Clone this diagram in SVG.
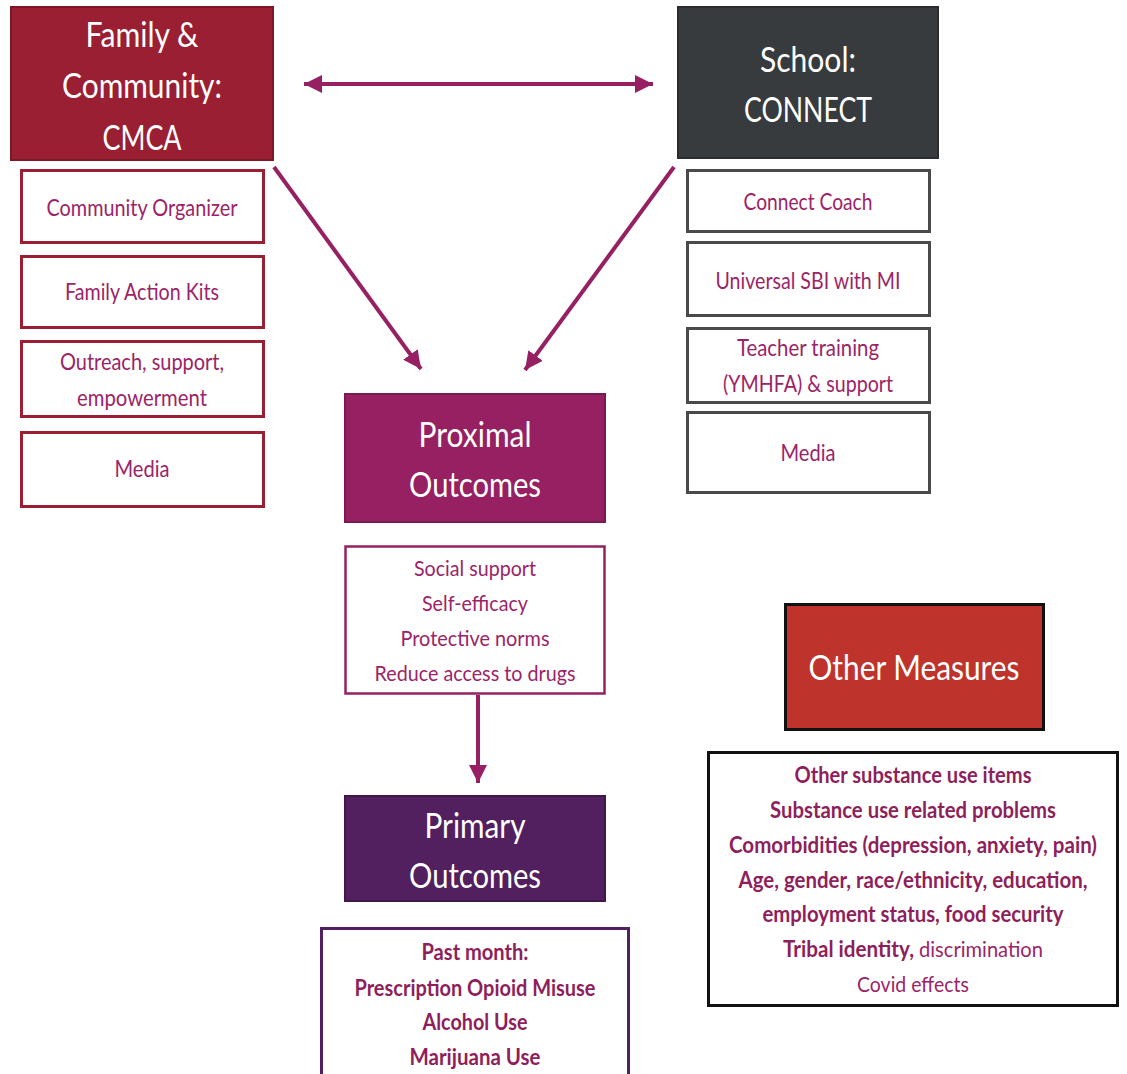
<svg xmlns="http://www.w3.org/2000/svg" width="1127" height="1074" viewBox="0 0 1127 1074">
<style>
text{font-family:Lato,"Open Sans","Liberation Sans",sans-serif;text-anchor:middle}
.h{font-size:35px;fill:#ffffff}
.s{font-size:24px;fill:#9b2467}
.l{font-size:22px;fill:#9b2467}
.b{font-size:22px;font-weight:bold;fill:#8e1f5c}
.red{fill:#ffffff;stroke:#9a1f33;stroke-width:3}
.gry{fill:#ffffff;stroke:#4a4a4a;stroke-width:3}
.con{stroke:#962061;stroke-width:4;fill:none}
</style>
<defs>
<marker id="ah" viewBox="0 0 10 10" refX="10" refY="5" markerWidth="4.5" markerHeight="4.5" orient="auto-start-reverse" markerUnits="strokeWidth">
<path d="M0,0 L10,5 L0,10 Z" fill="#962061"/>
</marker>
</defs>
<rect width="1127" height="1074" fill="#ffffff"/>

<g id="connectors">
<line class="con" x1="304" y1="84" x2="653" y2="84" marker-start="url(#ah)" marker-end="url(#ah)"/>
<line class="con" x1="274" y1="167" x2="421" y2="369" marker-end="url(#ah)"/>
<line class="con" x1="674" y1="167" x2="525" y2="370" marker-end="url(#ah)"/>
<line class="con" x1="478" y1="695" x2="478" y2="783" stroke-width="3.5" marker-end="url(#ah)"/>
</g>

<g id="family">
<rect x="11" y="7" width="262" height="153" fill="#9a1f33" stroke="#7e1829" stroke-width="2"/>
<text class="h" x="142" y="47" textLength="113" lengthAdjust="spacingAndGlyphs">Family &amp;</text>
<text class="h" x="142" y="98" textLength="160" lengthAdjust="spacingAndGlyphs">Community:</text>
<text class="h" x="142" y="150" textLength="79" lengthAdjust="spacingAndGlyphs">CMCA</text>
</g>

<g id="school">
<rect x="678" y="7" width="260" height="151" fill="#383b3e" stroke="#2a2c2e" stroke-width="2"/>
<text class="h" x="808" y="72" textLength="96" lengthAdjust="spacingAndGlyphs">School:</text>
<text class="h" x="808" y="122" textLength="128" lengthAdjust="spacingAndGlyphs">CONNECT</text>
</g>

<g id="community-organizer">
<rect class="red" x="21.5" y="170.5" width="242" height="72"/>
<text class="s" x="142" y="216" textLength="191" lengthAdjust="spacingAndGlyphs">Community Organizer</text>
</g>
<g id="family-action-kits">
<rect class="red" x="21.5" y="256.5" width="242" height="71"/>
<text class="s" x="142" y="300" textLength="154" lengthAdjust="spacingAndGlyphs">Family Action Kits</text>
</g>
<g id="outreach">
<rect class="red" x="21.5" y="341.5" width="242" height="75"/>
<text class="s" x="142" y="370" textLength="164" lengthAdjust="spacingAndGlyphs">Outreach, support,</text>
<text class="s" x="142" y="406" textLength="130" lengthAdjust="spacingAndGlyphs">empowerment</text>
</g>
<g id="media-left">
<rect class="red" x="21.5" y="432.5" width="242" height="74"/>
<text class="s" x="142" y="477" textLength="55" lengthAdjust="spacingAndGlyphs">Media</text>
</g>

<g id="connect-coach">
<rect class="gry" x="687.5" y="170.5" width="242" height="61"/>
<text class="s" x="808" y="210" textLength="129" lengthAdjust="spacingAndGlyphs">Connect Coach</text>
</g>
<g id="universal-sbi">
<rect class="gry" x="687.5" y="242.5" width="242" height="73"/>
<text class="s" x="808" y="289" textLength="185" lengthAdjust="spacingAndGlyphs">Universal SBI with MI</text>
</g>
<g id="teacher-training">
<rect class="gry" x="687.5" y="328.5" width="242" height="74"/>
<text class="s" x="808" y="356" textLength="142" lengthAdjust="spacingAndGlyphs">Teacher training</text>
<text class="s" x="808" y="392" textLength="170" lengthAdjust="spacingAndGlyphs">(YMHFA) &amp; support</text>
</g>
<g id="media-right">
<rect class="gry" x="687.5" y="412.5" width="242" height="80"/>
<text class="s" x="808" y="461" textLength="55" lengthAdjust="spacingAndGlyphs">Media</text>
</g>

<g id="proximal">
<rect x="345" y="394" width="260" height="128" fill="#962061" stroke="#7a1a4f" stroke-width="2"/>
<text class="h" x="475" y="447" textLength="113" lengthAdjust="spacingAndGlyphs">Proximal</text>
<text class="h" x="475" y="497" textLength="132" lengthAdjust="spacingAndGlyphs">Outcomes</text>
</g>
<g id="proximal-list">
<rect x="345.5" y="546.5" width="259" height="147" fill="#ffffff" stroke="#962061" stroke-width="2.5"/>
<text class="l" x="475" y="576" textLength="122" lengthAdjust="spacingAndGlyphs">Social support</text>
<text class="l" x="475" y="611" textLength="106" lengthAdjust="spacingAndGlyphs">Self-efficacy</text>
<text class="l" x="475" y="646" textLength="149" lengthAdjust="spacingAndGlyphs">Protective norms</text>
<text class="l" x="475" y="681" textLength="201" lengthAdjust="spacingAndGlyphs">Reduce access to drugs</text>
</g>

<g id="primary">
<rect x="345" y="796" width="260" height="105" fill="#521f5f" stroke="#3f1749" stroke-width="2"/>
<text class="h" x="475" y="838" textLength="101" lengthAdjust="spacingAndGlyphs">Primary</text>
<text class="h" x="475" y="888" textLength="132" lengthAdjust="spacingAndGlyphs">Outcomes</text>
</g>
<g id="primary-list">
<rect x="321.5" y="928.5" width="307" height="160" fill="#ffffff" stroke="#521f5f" stroke-width="3"/>
<text class="b" x="475" y="960" textLength="107" lengthAdjust="spacingAndGlyphs">Past month:</text>
<text class="b" x="475" y="996" textLength="241" lengthAdjust="spacingAndGlyphs">Prescription Opioid Misuse</text>
<text class="b" x="475" y="1030" textLength="105" lengthAdjust="spacingAndGlyphs">Alcohol Use</text>
<text class="b" x="475" y="1065" textLength="131" lengthAdjust="spacingAndGlyphs">Marijuana Use</text>
</g>

<g id="other-measures">
<rect x="785.5" y="604.5" width="258" height="125" fill="#be342d" stroke="#111111" stroke-width="3"/>
<text class="h" x="914" y="680" textLength="211" lengthAdjust="spacingAndGlyphs">Other Measures</text>
</g>
<g id="other-list">
<rect x="708.5" y="752.5" width="409" height="253" fill="#ffffff" stroke="#111111" stroke-width="3"/>
<text class="b" x="913" y="783" textLength="237" lengthAdjust="spacingAndGlyphs">Other substance use items</text>
<text class="b" x="913" y="818" textLength="286" lengthAdjust="spacingAndGlyphs">Substance use related problems</text>
<text class="b" x="913" y="853" textLength="368" lengthAdjust="spacingAndGlyphs">Comorbidities (depression, anxiety, pain)</text>
<text class="b" x="913" y="888" textLength="349" lengthAdjust="spacingAndGlyphs">Age, gender, race/ethnicity, education,</text>
<text class="b" x="913" y="922" textLength="301" lengthAdjust="spacingAndGlyphs">employment status, food security</text>
<text class="b" x="783" y="957" style="text-anchor:start" textLength="131" lengthAdjust="spacingAndGlyphs">Tribal identity,</text>
<text class="l" x="919" y="957" style="text-anchor:start" textLength="124" lengthAdjust="spacingAndGlyphs">discrimination</text>
<text class="l" x="913" y="992" textLength="112" lengthAdjust="spacingAndGlyphs">Covid effects</text>
</g>
</svg>
